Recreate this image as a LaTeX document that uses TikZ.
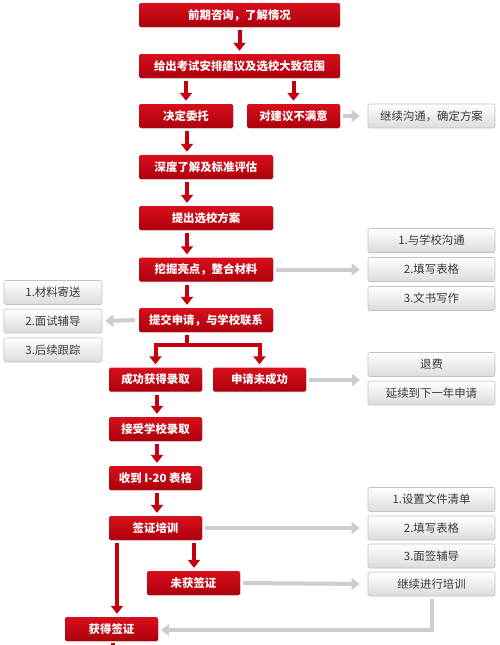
\documentclass[tikz,border=0pt]{standalone}
\usepackage{fontspec}
\newfontfamily\cjk{Noto Sans CJK SC}
\usetikzlibrary{arrows.meta,shadows}
\definecolor{redtop}{HTML}{D8101C}
\definecolor{redbot}{HTML}{AC000C}
\definecolor{redarrow}{HTML}{C4000E}
\definecolor{grayline}{HTML}{CDCDCD}
\definecolor{grayborder}{HTML}{C2C2C2}
\definecolor{graytext}{HTML}{3A3A3A}
\begin{document}
\begin{tikzpicture}[x=1pt,y=-1pt,
  redbox/.style={rectangle, rounded corners=1.5pt, top color=redtop, bottom color=redbot,
    text=white, font=\cjk\bfseries\fontsize{11.4}{12}\selectfont, inner sep=0pt,
    minimum height=24pt, drop shadow={opacity=0.25, shadow xshift=0.8pt, shadow yshift=-0.8pt}},
  graybox/.style={rectangle, rounded corners=2pt, draw=grayborder, line width=0.6pt,
    top color=white, bottom color=black!14, text=graytext,
    font=\cjk\fontsize{11.4}{12}\selectfont, inner sep=0pt, minimum height=24pt,
    minimum width=127pt},
  redarr/.style={draw=redarrow, line width=4pt, -{Triangle[width=12pt,length=8pt]}},
  redline/.style={draw=redarrow, line width=4pt},
  grayarr/.style={draw=grayline, line width=4pt, -{Triangle[width=12pt,length=8pt]}},
  grayln/.style={draw=grayline, line width=4pt}
]
\useasboundingbox (0,0) rectangle (500,645);

% red boxes
\node[redbox, minimum width=201pt] (n1) at (239.5,15) {前期咨询，了解情况};
\node[redbox, minimum width=201pt] (n2) at (239.5,66) {给出考试安排建议及选校大致范围};
\node[redbox, minimum width=94pt] (n3a) at (186,116) {决定委托};
\node[redbox, minimum width=93pt] (n3b) at (293.5,116) {对建议不满意};
\node[redbox, minimum width=134pt] (n4) at (206,167) {深度了解及标准评估};
\node[redbox, minimum width=134pt] (n5) at (206,218) {提出选校方案};
\node[redbox, minimum width=134pt] (n6) at (206,269.5) {挖掘亮点，整合材料};
\node[redbox, minimum width=134pt] (n7) at (206,320) {提交申请，与学校联系};
\node[redbox, minimum width=93pt] (n8a) at (155.5,379.5) {成功获得录取};
\node[redbox, minimum width=93pt] (n8b) at (259.5,379.5) {申请未成功};
\node[redbox, minimum width=93pt] (n9) at (155.5,429) {接受学校录取};
\node[redbox, minimum width=93pt] (n10) at (155.5,478) {收到 I-20 表格};
\node[redbox, minimum width=93pt] (n11) at (155.5,528) {签证培训};
\node[redbox, minimum width=93pt] (n12) at (193.5,583) {未获签证};
\node[redbox, minimum width=93pt] (n13) at (111.5,629) {获得签证};

% gray boxes
\node[graybox] (g1) at (431.5,116) {继续沟通，确定方案};
\node[graybox] (g2a) at (431.5,240.5) {1.与学校沟通};
\node[graybox] (g2b) at (431.5,269.5) {2.填写表格};
\node[graybox] (g2c) at (431.5,298.5) {3.文书写作};
\node[graybox, minimum width=98pt] (gl1) at (53,292.5) {1.材料寄送};
\node[graybox, minimum width=98pt] (gl2) at (53,321) {2.面试辅导};
\node[graybox, minimum width=98pt] (gl3) at (53,350) {3.后续跟踪};
\node[graybox] (g3a) at (431.5,364.5) {退费};
\node[graybox] (g3b) at (431.5,393) {延续到下一年申请};
\node[graybox] (g4a) at (431.5,499.5) {1.设置文件清单};
\node[graybox] (g4b) at (431.5,528) {2.填写表格};
\node[graybox] (g4c) at (431.5,556) {3.面签辅导};
\node[graybox] (g4d) at (431.5,584) {继续进行培训};

% helper coordinates
\coordinate (sp) at (187,0);
\coordinate (br) at (187,345);
\coordinate (brL) at (155.5,345);
\coordinate (brR) at (259.5,345);
\coordinate (g3m) at (360,380);
\coordinate (lp) at (117,0);
\coordinate (rp) at (194,0);
\coordinate (ret) at (431.5,630);
\coordinate (stub) at (113,650);

% red arrows
\draw[redarr, shorten <=3pt, shorten >=3pt] (n1) -- (n2);
\draw[redarr, shorten <=3pt, shorten >=3pt] (n2.south -| n3a) -- (n3a.north);
\draw[redarr, shorten <=3pt, shorten >=3pt] (n2.south -| n3b) -- (n3b.north);
\draw[redarr, shorten <=3pt, shorten >=3pt] (n3a.south -| sp) -- (n4.north -| sp);
\draw[redarr, shorten <=3pt, shorten >=3pt] (n4.south -| sp) -- (n5.north -| sp);
\draw[redarr, shorten <=3pt, shorten >=3pt] (n5.south -| sp) -- (n6.north -| sp);
\draw[redarr, shorten <=3pt, shorten >=3pt] (n6.south -| sp) -- (n7.north -| sp);
\draw[redline, shorten <=3pt] (n7.south -| sp) -- (br);
\draw[redline] ([xshift=-2pt]brL) -- ([xshift=2pt]brR);
\draw[redarr, shorten >=3pt] ([yshift=-2pt]brL) -- (n8a.north);
\draw[redarr, shorten >=3pt] ([yshift=-2pt]brR) -- (n8b.north);
\draw[redarr, shorten <=3pt, shorten >=3pt] ([xshift=1.5pt]n8a.south) -- ([xshift=1.5pt]n9.north);
\draw[redarr, shorten <=3pt, shorten >=3pt] ([xshift=1.5pt]n9.south) -- ([xshift=1.5pt]n10.north);
\draw[redarr, shorten <=3pt, shorten >=3pt] ([xshift=1.5pt]n10.south) -- ([xshift=1.5pt]n11.north);
\draw[redarr, shorten <=3pt, shorten >=3pt] (n11.south -| lp) -- (n13.north -| lp);
\draw[redarr, shorten <=3pt, shorten >=3pt] (n11.south -| rp) -- (n12.north -| rp);
\draw[redline, shorten <=2pt] (n13.south -| stub) -- (stub);

% gray arrows
\draw[grayarr, shorten <=3pt, shorten >=8pt] (n3b.east) -- (g1.west);
\draw[grayarr, shorten <=3pt, shorten >=8pt] (n6.east) -- (g2b.west);
\draw[grayarr, shorten <=4pt, shorten >=3pt] (n7.west) -- (gl2.east);
\draw[grayarr, shorten <=3pt] (n8b.east |- g3m) -- (g3m);
\draw[grayarr, shorten <=3pt, shorten >=8pt] (n11.east) -- (g4b.west);
\draw[grayarr, shorten <=3pt, shorten >=8pt] (n12.east) -- (g4d.west);
\draw[grayarr, shorten <=3pt, shorten >=3pt] (g4d.south) -- (ret) -- (ret -| n13.east);
\end{tikzpicture}
\end{document}
